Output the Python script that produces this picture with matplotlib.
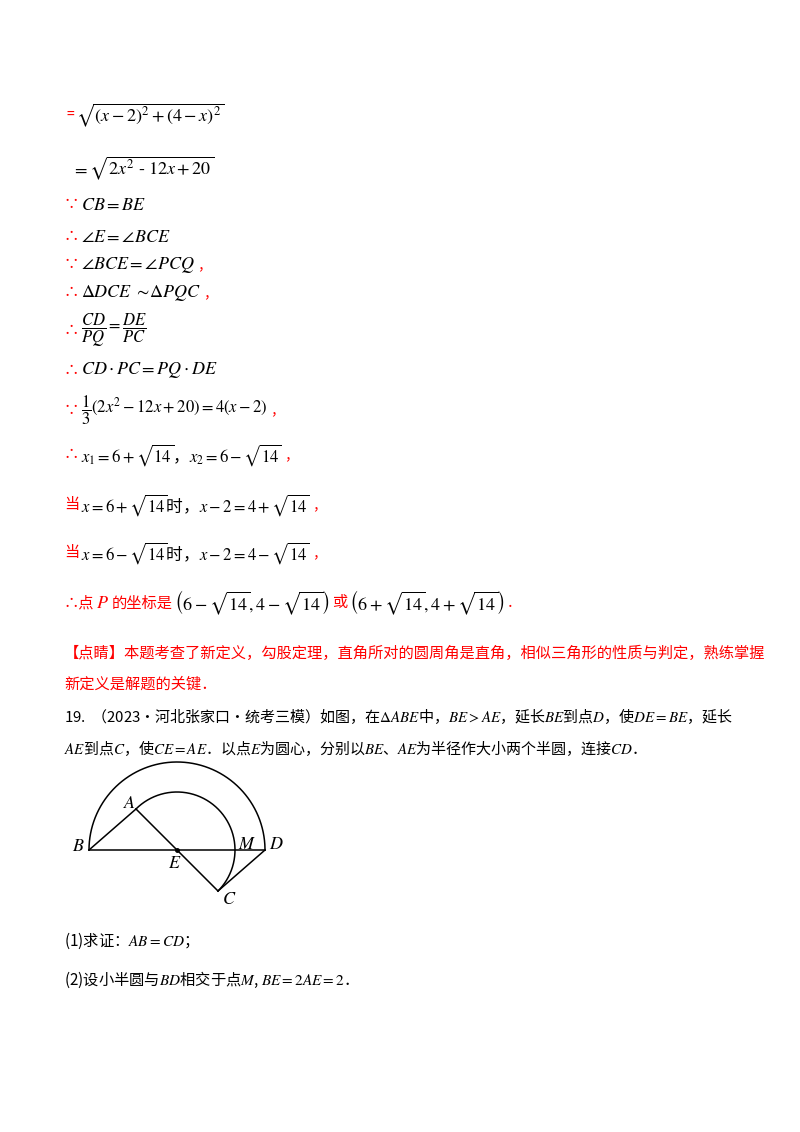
import matplotlib
matplotlib.use("Agg")
import matplotlib.pyplot as plt
import numpy as np

plt.rcParams['font.family'] = ['Noto Sans CJK SC', 'DejaVu Sans']
plt.rcParams['mathtext.fontset'] = 'stix'

R = '#ff0000'
K = 'black'
# each line: (x, y, [(text, color, size), ...])
lines = [
    (66, 115, [('=', R, 10), (r'$\sqrt{\left(x-2\right)^2+\left(4-x\right)^2}$', K, 13)]),
    (72, 168, [(r'$=\sqrt{2x^2\ \text{-}\ 12x+20}$', K, 13)]),
    (64, 205, [('∵', R, 11), (r'$CB=BE$', K, 13)]),
    (64, 237, [('∴', R, 11), (r'$\angle E=\angle BCE$', K, 13)]),
    (64, 265, [('∵', R, 11), (r'$\angle BCE=\angle PCQ$', K, 13), ('，', R, 10)]),
    (64, 293, [('∴', R, 11), (r'$\Delta DCE\ \sim\!\Delta PQC$', K, 13), ('，', R, 10)]),
    (64, 330, [('∴', R, 11), (r'$\dfrac{CD}{PQ}=\dfrac{DE}{PC}$', K, 12)]),
    (64, 370, [('∴', R, 11), (r'$CD\cdot PC=PQ\cdot DE$', K, 13)]),
    (64, 410, [('∵', R, 11), (r'$\dfrac{1}{3}\left(2x^2-12x+20\right)=4\left(x-2\right)$', K, 12), ('，', R, 10)]),
    (64, 455, [('∴', R, 11), (r'$x_1=6+\sqrt{14}$，$x_2=6-\sqrt{14}$', K, 12), ('，', R, 10)]),
    (64, 505, [('当', R, 11), (r'$x=6+\sqrt{14}$时，$x-2=4+\sqrt{14}$', K, 12), ('，', R, 10)]),
    (64, 553, [('当', R, 11), (r'$x=6-\sqrt{14}$时，$x-2=4-\sqrt{14}$', K, 12), ('，', R, 10)]),
    (64, 603, [('∴点', R, 11), (r'$P$', R, 13), ('的坐标是', R, 11),
               (r'$\left(6-\sqrt{14},4-\sqrt{14}\right)$', K, 13), ('或', R, 11),
               (r'$\left(6+\sqrt{14},4+\sqrt{14}\right)$', K, 13), ('．', R, 10)]),
    (64, 653, [('【点睛】本题考查了新定义，勾股定理，直角所对的圆周角是直角，相似三角形的性质与判定，熟练掌握', R, 11)]),
    (64, 684, [('新定义是解题的关键．', R, 11)]),
    (64, 716, [(r'19.  （2023·河北张家口·统考三模）如图，在$\Delta ABE$中，$BE>AE$，延长$BE$到点$D$，使$DE=BE$，延长', K, 10.8)]),
    (64, 748, [(r'$AE$到点$C$，使$CE=AE$．以点$E$为圆心，分别以$BE$、$AE$为半径作大小两个半圆，连接$CD$．', K, 10.8)]),
    (64, 941, [(r'(1)求证：$AB=CD$；', K, 11)]),
    (64, 980, [(r'(2)设小半圆与$BD$相交于点$M$, $BE=2AE=2$．', K, 11)]),
]

# geometry (pixel coordinates)
E = (177, 850); R_big = 88; R_small = 58
pts = {'B': (89, 850), 'D': (265, 850), 'A': (136, 809), 'C': (218, 891)}
labels = {'B': (72, 846), 'D': (269, 844), 'A': (123, 803), 'C': (222, 899), 'M': (238, 844), 'E': (168, 863)}

fig = plt.figure(figsize=(8, 11.32), dpi=100)
ax = fig.add_axes([0, 0, 1, 1])
ax.set_xlim(0, 800); ax.set_ylim(1132, 0); ax.axis('off')
fig.canvas.draw()
r = fig.canvas.get_renderer()
inv = ax.transData.inverted()

for x, y, segs in lines:
    cx = x
    for t, c, s in segs:
        txt = ax.text(cx, y, t, color=c, fontsize=s, va='center', ha='left')
        bb = txt.get_window_extent(renderer=r)
        cx = inv.transform((bb.x1, bb.y0))[0] + 2

th = np.radians(np.linspace(180, 360, 200))
ax.plot(E[0] + R_big*np.cos(th), E[1] + R_big*np.sin(th), color=K, lw=1.1)
th = np.radians(np.linspace(225, 405, 200))
ax.plot(E[0] + R_small*np.cos(th), E[1] + R_small*np.sin(th), color=K, lw=1.1)
for a, b in [('B', 'D'), ('B', 'A'), ('A', 'C'), ('C', 'D')]:
    ax.plot([pts[a][0], pts[b][0]], [pts[a][1], pts[b][1]], color=K, lw=1.1)
ax.plot(*E, 'o', color=K, ms=2.5)
for k, (x, y) in labels.items():
    ax.text(x, y, f'${k}$', fontsize=13, va='center', ha='left')

fig.savefig('out.png', dpi=100)
